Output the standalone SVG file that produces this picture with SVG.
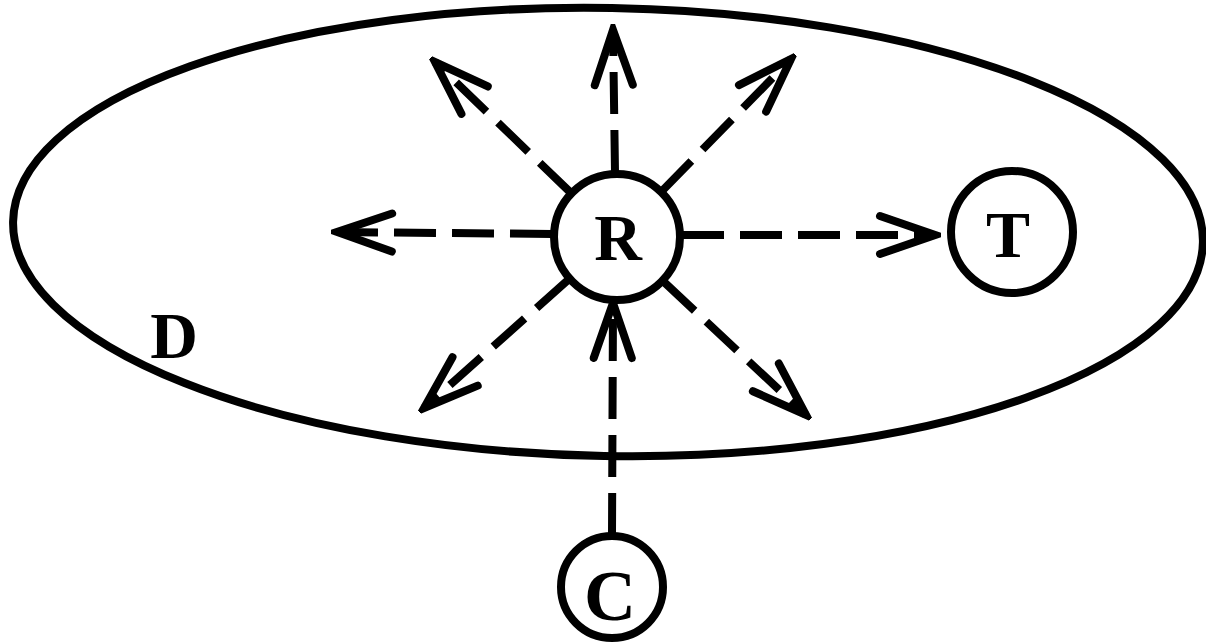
<svg xmlns="http://www.w3.org/2000/svg" width="1206" height="643" viewBox="0 0 1206 643">
  <style>
    .outline { fill: none; stroke: #000; stroke-width: 8; }
    .node { fill: #fff; stroke: #000; stroke-width: 8; }
    .label { font-family: "Liberation Serif", "Times New Roman", serif; font-weight: bold; font-size: 66px; fill: #000; text-anchor: middle; }
    .edge { fill: none; stroke: #000; stroke-width: 8; stroke-dasharray: 42 16; marker-end: url(#arrow); }
  </style>
  <defs>
    <marker id="arrow" markerUnits="userSpaceOnUse" viewBox="-64 -26 70 52" refX="0" refY="0" markerWidth="70" markerHeight="52" orient="auto">
      <path d="M -55 -19 L 0 0 L -55 19" fill="none" stroke="#000" stroke-width="8" stroke-linejoin="miter" stroke-linecap="round"/>
    </marker>
  </defs>
  <rect width="1206" height="643" fill="#fff"/>
  <g id="region-D">
    <ellipse class="outline" cx="608" cy="232" rx="595" ry="224" transform="rotate(1 608 232)"/>
    <text class="label" x="174" y="358">D</text>
  </g>
  <g id="connectors">
    <line class="edge" x1="615" y1="172" x2="613" y2="30"/>
    <line class="edge" x1="570" y1="192" x2="435" y2="62"/>
    <line class="edge" x1="662" y1="191" x2="791" y2="59"/>
    <line class="edge" x1="552" y1="234" x2="337" y2="232"/>
    <line class="edge" x1="682" y1="235" x2="935" y2="235"/>
    <line class="edge" x1="568" y1="280" x2="424" y2="408"/>
    <line class="edge" x1="664" y1="282" x2="806" y2="415"/>
    <line class="edge" x1="612" y1="535" x2="613" y2="303"/>
  </g>
  <g id="node-R">
    <circle class="node" cx="617" cy="237" r="63"/>
    <text class="label" x="618" y="260">R</text>
  </g>
  <g id="node-T">
    <circle class="node" cx="1012" cy="232" r="61"/>
    <text class="label" x="1008" y="257">T</text>
  </g>
  <g id="node-C">
    <circle class="node" cx="612" cy="587" r="51"/>
    <text class="label" x="610" y="620" style="font-size:72px">C</text>
  </g>
</svg>
